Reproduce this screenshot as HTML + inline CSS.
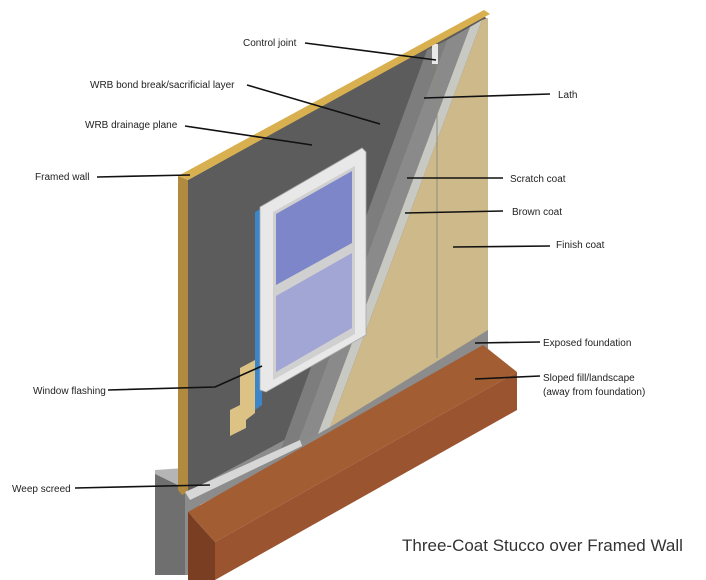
<!DOCTYPE html>
<html><head><meta charset="utf-8"><style>
html,body{margin:0;padding:0;background:#fff;}
svg{display:block;}
text{font-family:"Liberation Sans",sans-serif;font-size:10px;fill:#222;}
</style></head><body>
<svg width="706" height="580" viewBox="0 0 706 580" xmlns="http://www.w3.org/2000/svg">
<!-- foundation -->
<polygon points="155,472 185,470 488,310 488,345 185,510" fill="#a6a6a6"/>
<polygon points="185,490 488,330 488,350 200,505 190,520 190,575 185,575" fill="#8c8c8c"/>
<polygon points="155,472 185,488 185,575 155,575" fill="#6f6f6f"/>
<polygon points="155,470 185,468 188,490 155,474" fill="#b5b5b5"/>
<!-- brown fill -->
<polygon points="188,512 483,345 517,372 215,542" fill="#a35d33"/>
<polygon points="215,542 517,372 517,410 215,580" fill="#9a5430"/>
<polygon points="188,512 215,542 215,580 188,580" fill="#7a3f22"/>
<!-- wall face WRB -->
<polygon points="188,180 484,16 488,20 488,330 188,492" fill="#5c5c5c"/>
<!-- lath band -->
<polygon points="427,50 447,40 297,445 280,452" fill="#7d7d7d"/>
<polygon points="447,40 470,27 318,434 297,445" fill="#8a8a8a"/>
<polygon points="470,27 482,20 330,427 318,434" fill="#c9c9c4"/>
<!-- finish coat -->
<polygon points="482,20 488,18 488,330 330,427" fill="#cdb98a"/>
<line x1="437" y1="45" x2="437" y2="358" stroke="#8d8d80" stroke-width="1"/>
<rect x="432" y="44" width="6" height="20" fill="#e8e8e8"/>
<!-- wood top edge -->
<polygon points="178,176 484,10 490,14 188,180" fill="#d9b050"/>
<polygon points="178,176 188,180 188,492 182,495 178,490" fill="#b18a3f"/>
<!-- weep screed -->
<polygon points="185,492 300,440 302,446 190,500" fill="#d7d7d7"/>
<!-- blue flashing -->
<polygon points="255,212 262,208 262,405 255,410" fill="#3a86c8"/>
<!-- window flashing -->
<polygon points="240,368 255,360 255,413 246,420 246,428 230,436 230,410 240,405" fill="#dcc285"/>
<!-- window -->
<polygon points="260,207 362,148 366,152 366,335 266,392 260,390" fill="#e8e8e8" stroke="#aaa" stroke-width="0.8"/>
<polygon points="273,212 355,166 355,334 273,380" fill="#d0d0d0"/>
<polygon points="276,214 352,171 352,243 276,285" fill="#7c86c8"/>
<polygon points="276,296 352,253 352,328 276,372" fill="#a2a6d4"/>
<!-- leader lines -->
<g stroke="#111" stroke-width="1.6" fill="none">
<line x1="305" y1="43" x2="436" y2="60"/>
<line x1="247" y1="85" x2="380" y2="124"/>
<line x1="185" y1="126" x2="312" y2="145"/>
<line x1="97" y1="177" x2="190" y2="175"/>
<line x1="424" y1="98" x2="550" y2="94"/>
<line x1="407" y1="178" x2="503" y2="178"/>
<line x1="405" y1="213" x2="503" y2="211"/>
<line x1="453" y1="247" x2="550" y2="246"/>
<line x1="475" y1="343" x2="540" y2="342"/>
<line x1="475" y1="379" x2="540" y2="376"/>
<polyline points="108,390 215,387 262,366"/>
<line x1="75" y1="488" x2="210" y2="485"/>
</g>
<text x="243" y="46">Control joint</text>
<text x="90" y="88">WRB bond break/sacrificial layer</text>
<text x="85" y="128">WRB drainage plane</text>
<text x="35" y="180">Framed wall</text>
<text x="558" y="98">Lath</text>
<text x="510" y="182">Scratch coat</text>
<text x="512" y="215">Brown coat</text>
<text x="556" y="248">Finish coat</text>
<text x="543" y="346">Exposed foundation</text>
<text x="543" y="381">Sloped fill/landscape</text>
<text x="543" y="395">(away from foundation)</text>
<text x="33" y="394">Window flashing</text>
<text x="12" y="492">Weep screed</text>
<text x="402" y="551" style="font-size:17px;fill:#333">Three-Coat Stucco over Framed Wall</text>
</svg>
</body></html>
